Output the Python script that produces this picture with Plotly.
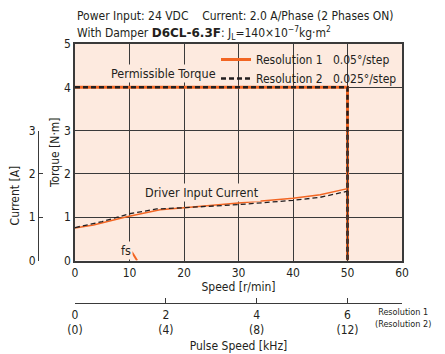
import plotly.graph_objects as go

# ---- data ----
torque_speed = [0, 50, 50]
torque_vals = [4, 4, 0]

current_speed_r1 = [0, 3.4, 9.5, 15.6, 20, 30, 40, 45, 50]
current_r1 = [0.75, 0.82, 1.01, 1.17, 1.22, 1.33, 1.44, 1.52, 1.66]
current_speed_r2 = [0, 5, 10, 15, 20, 30, 40, 45, 50]
current_r2 = [0.76, 0.90, 1.08, 1.19, 1.22, 1.29, 1.39, 1.46, 1.60]

fs_speed = [10.4, 11.4]
fs_torque = [0.2, 0.0]

speed_ticks = [0, 10, 20, 30, 40, 50, 60]
pulse_khz_r1 = [0, 2, 4, 6]
pulse_khz_r2 = [0, 4, 8, 12]
pulse_tick_text = [f"{a}<br>({b})" for a, b in zip(pulse_khz_r1, pulse_khz_r2)]

ORANGE = "#f26522"
BLACK = "#231f20"
PEACH = "#fdeadf"
GRID = "#3a3a3a"
FONT = "DejaVu Sans Condensed, Liberation Sans, sans-serif"
FS = 12

fig = go.Figure()
fig.add_trace(go.Scatter(x=torque_speed, y=torque_vals, mode="lines",
                         line=dict(color=ORANGE, width=3),
                         name="Resolution 1\u00a0\u00a0\u00a00.05°/step"))
fig.add_trace(go.Scatter(x=torque_speed, y=torque_vals, mode="lines",
                         line=dict(color=BLACK, width=2.5, dash="5px,3px"),
                         name="Resolution 2\u00a0\u00a0\u00a00.025°/step"))
fig.add_trace(go.Scatter(x=current_speed_r1, y=current_r1, mode="lines",
                         line=dict(color=ORANGE, width=1.5), yaxis="y2",
                         showlegend=False))
fig.add_trace(go.Scatter(x=current_speed_r2, y=current_r2, mode="lines",
                         line=dict(color=BLACK, width=1.3, dash="5px,3px"), yaxis="y2",
                         showlegend=False))
fig.add_trace(go.Scatter(x=fs_speed, y=fs_torque, mode="lines",
                         line=dict(color=ORANGE, width=2), showlegend=False))
# pulse-speed scale (carrier trace, invisible)
fig.add_trace(go.Scatter(x=pulse_khz_r1, y=[0] * len(pulse_khz_r1), xaxis="x2", yaxis="y3",
                         mode="markers", marker=dict(opacity=0), hoverinfo="skip",
                         showlegend=False))

# figure is placed 8px in from the page corner
W, H = 437, 346
PW, PH = 394, 259          # plot area (margins l=0, r=43, t=36, b=51)
x0 = 67 / PW
ybot = (295 - 252.5) / PH


def py(screen_y):
    return (295 - (screen_y - 8)) / PH


def px(screen_x):
    return (screen_x - 8) / PW


tfont = dict(size=FS)
fig.update_layout(
    width=W, height=H,
    margin=dict(l=0, r=43, t=36, b=51),
    paper_bgcolor="white",
    plot_bgcolor="rgba(0,0,0,0)",
    font=dict(family=FONT, size=FS, color="#231f20"),
    showlegend=True,
    legend=dict(x=1, xanchor="right", y=py(45), yanchor="top",
                bgcolor="rgba(0,0,0,0)", borderwidth=0, font=dict(size=FS),
                tracegroupgap=0, itemwidth=30),
    xaxis=dict(domain=[x0, 1], range=[0, 60], tickvals=speed_ticks,
               showgrid=True, gridcolor=GRID, gridwidth=1,
               showline=True, linecolor=GRID, linewidth=1.5, mirror=True,
               ticks="", zeroline=False, anchor="y", automargin=False,
               title=dict(text="Speed [r/min]", standoff=4, font=tfont)),
    yaxis=dict(domain=[ybot, 1], range=[0, 5], dtick=1,
               showgrid=True, gridcolor=GRID, gridwidth=1,
               showline=True, linecolor=GRID, linewidth=1.5, mirror=True,
               ticks="", zeroline=False, automargin=False, anchor="x",
               title=dict(text="Torque [N·m]", standoff=2, font=tfont)),
    yaxis2=dict(domain=[ybot, ybot + (1 - ybot) * 3 / 5], range=[0, 3], dtick=1,
                anchor="free", position=px(38), showgrid=False, zeroline=False,
                showline=True, linecolor=GRID, linewidth=1.2, automargin=False,
                ticks="inside", ticklen=4, tickcolor=GRID,
                title=dict(text="Current [A]", standoff=6, font=tfont)),
    yaxis3=dict(domain=[0, 0.001], range=[0, 1], visible=False, anchor="x2"),
    xaxis2=dict(anchor="y3", domain=[x0, 1], range=[0, 7.2],
                tickvals=pulse_khz_r1, ticktext=pulse_tick_text,
                showgrid=False, zeroline=False, showline=True, linecolor=GRID, linewidth=1.2,
                ticks="inside", ticklen=5, tickcolor=GRID, automargin=False,
                title=dict(text="Pulse Speed [kHz]", standoff=5, font=tfont)),
)

# peach plot background (under grid lines)
fig.add_shape(type="rect", xref="paper", yref="paper", layer="below",
              x0=x0, x1=1, y0=ybot, y1=1,
              fillcolor=PEACH, line=dict(width=0))
# peach panel behind the legend (hides grid lines there)
fig.add_shape(type="rect", xref="paper", yref="paper", layer="between",
              x0=px(230), x1=1, y0=py(87), y1=py(48),
              fillcolor=PEACH, line=dict(width=0))

fig.add_annotation(x=16.3, y=4.33, xref="x", yref="y", text="Permissible Torque",
                   showarrow=False, bgcolor=PEACH, font=dict(size=12.5))
fig.add_annotation(x=23.3, y=1.56, xref="x", yref="y", text="Driver Input Current",
                   showarrow=False, bgcolor=PEACH, font=dict(size=12.5))
fig.add_annotation(x=9.4, y=0.24, xref="x", yref="y", text="fs",
                   showarrow=False, bgcolor=PEACH, font=dict(size=12.5))
fig.add_annotation(x=px(403), y=py(318), xref="paper", yref="paper",
                   xanchor="center", yanchor="middle",
                   text="Resolution 1<br>(Resolution 2)", showarrow=False,
                   font=dict(size=9))
fig.add_annotation(x=x0, y=py(16), xref="paper", yref="paper",
                   xanchor="left", yanchor="middle",
                   text="Power Input: 24 VDC\u00a0\u00a0\u00a0\u00a0Current: 2.0 A/Phase (2 Phases ON)",
                   showarrow=False, font=dict(size=12))
fig.add_annotation(x=x0, y=py(33), xref="paper", yref="paper",
                   xanchor="left", yanchor="middle",
                   text="With Damper <span style=\"font-family:DejaVu Sans\"><b>D6CL-6.3F</b></span>: J<sub>L</sub>=140×10<sup>−7</sup>kg·m<sup>2</sup>",
                   showarrow=False, font=dict(size=12))

fig.write_html("out.html")
